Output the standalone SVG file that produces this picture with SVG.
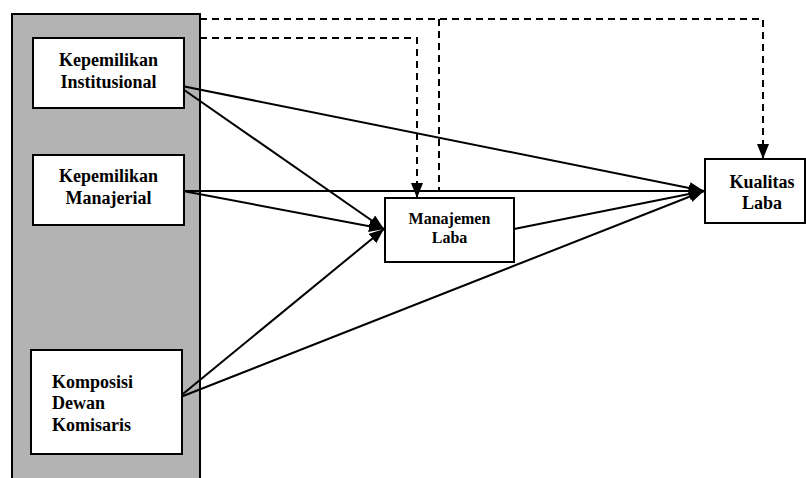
<svg xmlns="http://www.w3.org/2000/svg" width="806" height="478" viewBox="0 0 806 478">
<defs>
<style>
.box{fill:#fff;stroke:#000;stroke-width:2}
.lbl{font-family:"Liberation Serif","Times New Roman",serif;font-weight:bold;font-size:18px;fill:#000}
.sm{font-size:16px}
.ln{stroke:#000;stroke-width:2;fill:none;marker-end:url(#ah)}
.dl{stroke:#000;stroke-width:2;fill:none;stroke-dasharray:7 5}
</style>
<marker id="ah" markerUnits="userSpaceOnUse" markerWidth="16" markerHeight="14" refX="15" refY="6" orient="auto">
<path d="M0,0 L15,6 L0,12 z" fill="#000"/>
</marker>
</defs>
<rect id="panel" x="12" y="14" width="188" height="470" fill="#b3b3b3" stroke="#000" stroke-width="2"/>
<g id="connectors">
<path class="dl" d="M200,19 H763 V146"/>
<path class="dl" d="M200,38 H417 V185"/>
<path class="dl" d="M439,19 V191"/>
<path class="ln" d="M763,145 L763,159" stroke-dasharray="none"/>
<path class="ln" d="M417,184 L417,198"/>
<line class="ln" x1="177" y1="85" x2="704" y2="191"/>
<line class="ln" x1="177" y1="85" x2="384" y2="229"/>
<line class="ln" x1="183" y1="191" x2="704" y2="191"/>
<line class="ln" x1="183" y1="191" x2="384" y2="229"/>
<line class="ln" x1="178" y1="398" x2="384" y2="229"/>
<line class="ln" x1="178" y1="398" x2="704" y2="191"/>
<line class="ln" x1="514" y1="229" x2="704" y2="191"/>
</g>
<g id="institusional">
<rect class="box" x="33" y="38" width="151" height="70"/>
<text class="lbl" x="108.5" y="66" text-anchor="middle">Kepemilikan</text>
<text class="lbl" x="108.5" y="88" text-anchor="middle">Institusional</text>
</g>
<g id="manajerial">
<rect class="box" x="33" y="155" width="151" height="70"/>
<text class="lbl" x="108.5" y="182" text-anchor="middle">Kepemilikan</text>
<text class="lbl" x="108.5" y="204" text-anchor="middle">Manajerial</text>
</g>
<g id="komisaris">
<rect class="box" x="31" y="350" width="151" height="104"/>
<text class="lbl" x="52" y="388">Komposisi</text>
<text class="lbl" x="52" y="409">Dewan</text>
<text class="lbl" x="52" y="431">Komisaris</text>
</g>
<g id="manajemen">
<rect class="box" x="385" y="198" width="129" height="64"/>
<text class="lbl sm" x="449.5" y="224" text-anchor="middle">Manajemen</text>
<text class="lbl sm" x="449.5" y="243" text-anchor="middle">Laba</text>
</g>
<g id="kualitas">
<rect class="box" x="705" y="159" width="100" height="64"/>
<text class="lbl" x="762" y="188" text-anchor="middle">Kualitas</text>
<text class="lbl" x="762" y="209" text-anchor="middle">Laba</text>
</g>
</svg>
